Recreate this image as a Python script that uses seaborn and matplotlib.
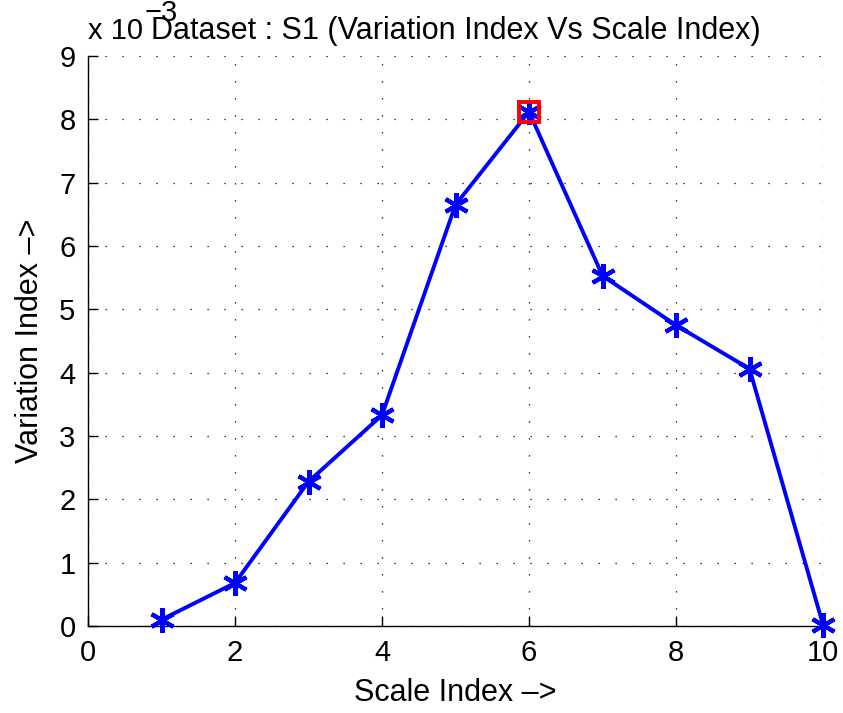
import matplotlib
matplotlib.use("Agg")
import matplotlib.pyplot as plt
import seaborn as sns
import pandas as pd
from matplotlib.ticker import FuncFormatter, MultipleLocator

# Variation index per scale index (values in units of 1e-3)
scale_index = [1, 2, 3, 4, 5, 6, 7, 8, 9, 10]
variation_index_e3 = [0.10, 0.68, 2.28, 3.33, 6.65, 8.12, 5.53, 4.75, 4.06, 0.02]
peak_scale = 6

df = pd.DataFrame({
    "scale": scale_index,
    "variation": [v * 1e-3 for v in variation_index_e3],
})

sns.set_theme(style="white")
plt.rcParams["font.family"] = ["Liberation Sans", "DejaVu Sans"]

FS = 21

fig = plt.figure(figsize=(8.43, 7.13), dpi=100)
ax = fig.add_axes([0.1044, 0.122, 0.8719, 0.7995])

sns.lineplot(data=df, x="scale", y="variation", ax=ax, color="#0000ff",
             linewidth=2.8, marker=(6, 2, 0), markersize=18,
             markeredgewidth=3, markeredgecolor="#0000ff", clip_on=False,
             zorder=3)

peak = df[df["scale"] == peak_scale]
ax.plot(peak["scale"], peak["variation"], marker="s", linestyle="none",
        markersize=15, markerfacecolor="none", markeredgecolor="#ff0000",
        markeredgewidth=2.8, clip_on=False, zorder=4)

ax.set_xlim(0, 10)
ax.set_ylim(0, 9e-3)
ax.xaxis.set_major_locator(MultipleLocator(2))
ax.yaxis.set_major_locator(MultipleLocator(1e-3))
ax.yaxis.set_major_formatter(FuncFormatter(lambda v, p: f"{v * 1e3:.0f}"))

ax.grid(True, color="black", linestyle=(0, (1, 12.6)), linewidth=0.9)
for side in ("top", "right"):
    ax.spines[side].set_visible(False)
for side in ("left", "bottom"):
    ax.spines[side].set_color("black")
    ax.spines[side].set_linewidth(1.0)

ax.tick_params(direction="in", length=7, width=1, colors="black",
               labelsize=FS, pad=9, left=True, bottom=True)

ax.set_xlabel("Scale Index \u2013>", fontsize=22, color="black", labelpad=8)
ax.set_ylabel("Variation Index \u2013>", fontsize=22, color="black", labelpad=10)
ax.set_title("Dataset : S1 (Variation Index Vs Scale Index)", fontsize=22,
             color="black", pad=12)

# Exponent note for the y axis, in the upper left corner
fig.text(0.104, 0.937, "x 10", fontsize=FS, color="black",
         ha="left", va="bottom")
fig.text(0.172, 0.962, "\u22123", fontsize=FS, color="black",
         ha="left", va="bottom")

fig.savefig("out.png", dpi=100, facecolor="white")
